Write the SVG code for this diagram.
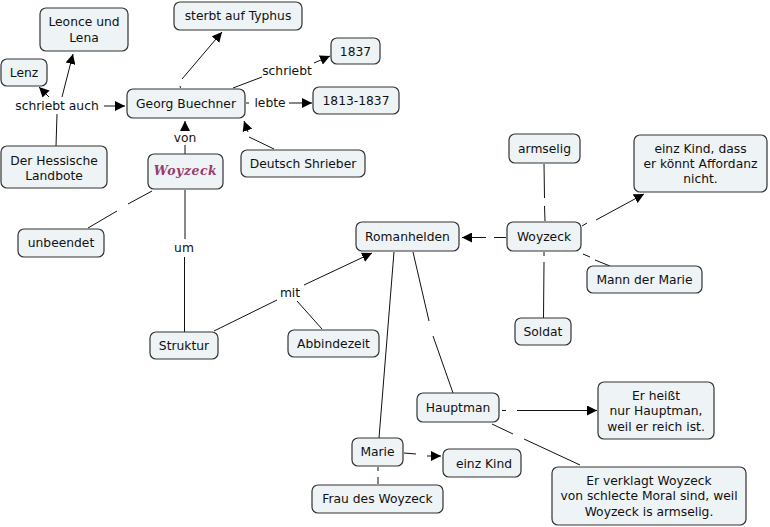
<svg xmlns="http://www.w3.org/2000/svg" width="770" height="527" viewBox="0 0 770 527">
<defs>
<marker id="ah" viewBox="0 0 10 10" refX="10" refY="5" markerWidth="10" markerHeight="10" markerUnits="userSpaceOnUse" orient="auto">
<path d="M0,0 L10,5 L0,10 z" fill="#000"/>
</marker>
</defs>
<style>
.n rect{fill:#eef3f6;stroke:#333;stroke-width:1.2}
.n text,.lbl{font-family:"DejaVu Sans",Verdana,sans-serif;font-size:12.3px;fill:#111;text-anchor:middle}
.c line,.c path{stroke:#111;stroke-width:1;fill:none}
.a{marker-end:url(#ah)}
.n text.ws{font-family:"DejaVu Serif",serif;font-style:italic;font-weight:bold;font-size:12.5px;fill:#9b3a6b;letter-spacing:0.5px}
</style>
<rect width="770" height="527" fill="#fff"/>
<g class="c" id="connectors">
<!-- Landbote schriebt auch -->
<line x1="56" y1="146" x2="57" y2="114"/>
<line class="a" x1="49" y1="97" x2="39" y2="87"/>
<line class="a" x1="62" y1="97" x2="73" y2="54"/>
<line class="a" x1="104" y1="106" x2="125" y2="106"/>
<!-- Georg -> sterbt -->
<line x1="180" y1="86" x2="180.5" y2="88"/>
<line class="a" x1="182" y1="79" x2="222" y2="32"/>
<!-- Georg schriebt 1837 -->
<line x1="233" y1="88" x2="262" y2="77"/>
<line class="a" x1="314" y1="63" x2="330" y2="56"/>
<!-- lebte -->
<line x1="246" y1="103" x2="249" y2="103"/>
<line class="a" x1="289" y1="103" x2="312" y2="103"/>
<!-- von -->
<line x1="185" y1="154" x2="185" y2="145"/>
<line class="a" x1="185" y1="130" x2="185" y2="121"/>
<!-- Deutsch Shrieber -->
<line x1="274" y1="149" x2="249" y2="137"/>
<line class="a" x1="248" y1="132" x2="244" y2="121"/>
<!-- unbeendet -->
<line x1="152" y1="191" x2="128" y2="204"/>
<line x1="117" y1="211" x2="88" y2="228"/>
<!-- um -->
<line x1="185" y1="190" x2="185" y2="239"/>
<line x1="184.5" y1="257" x2="184.5" y2="332"/>
<!-- mit -->
<line x1="214" y1="331" x2="277" y2="300"/>
<line class="a" x1="304" y1="285" x2="372" y2="253"/>
<line x1="297" y1="301" x2="322" y2="329"/>
<!-- Romanhelden - Marie -->
<line x1="394" y1="252" x2="379" y2="438"/>
<!-- Romanhelden - Hauptman -->
<line x1="413" y1="252" x2="429" y2="321"/>
<line x1="433" y1="336" x2="453" y2="393"/>
<!-- Woyzeck -> Romanhelden -->
<line x1="494" y1="237.5" x2="506" y2="237.5"/>
<line class="a" x1="486" y1="237.5" x2="462" y2="237.5"/>
<!-- armselig -->
<line x1="544" y1="164" x2="544.5" y2="198"/>
<line x1="544.5" y1="206" x2="545" y2="221"/>
<!-- Soldat -->
<line x1="544" y1="252" x2="544" y2="256"/>
<line x1="544" y1="262" x2="543.5" y2="318"/>
<!-- einz Kind dass -->
<line x1="582" y1="226" x2="587" y2="223"/>
<line class="a" x1="596" y1="220" x2="644" y2="194"/>
<!-- Mann der Marie -->
<line x1="583" y1="254" x2="590" y2="257"/>
<line x1="595" y1="260" x2="610" y2="266"/>
<!-- Hauptman -> Er heisst -->
<line x1="502" y1="410.5" x2="506" y2="410.5"/>
<line class="a" x1="517" y1="410.5" x2="597" y2="410.5"/>
<!-- Hauptman -> Er verklagt -->
<line x1="492" y1="424" x2="513" y2="434"/>
<line x1="524" y1="439" x2="580" y2="465"/>
<!-- Marie -> einz Kind -->
<line x1="404" y1="453" x2="416" y2="454"/>
<line class="a" x1="427" y1="456" x2="441" y2="456"/>
<!-- Marie - Frau des Woyzeck -->
<line x1="378" y1="467" x2="378" y2="471"/>
<line x1="378" y1="477" x2="378" y2="484"/>
</g>
<g id="labels">
<text class="lbl" x="57" y="110">schriebt auch</text>
<text class="lbl" x="287" y="75">schriebt</text>
<text class="lbl" x="270" y="107">lebte</text>
<text class="lbl" x="185" y="142">von</text>
<text class="lbl" x="184" y="252">um</text>
<text class="lbl" x="290" y="297">mit</text>
</g>
<g class="n" id="leonce"><rect x="40" y="8" width="88" height="43" rx="6"/><text x="84" y="26">Leonce und</text><text x="84" y="42">Lena</text></g>
<g class="n" id="sterbt"><rect x="174" y="2" width="128" height="28" rx="6"/><text x="238" y="20">sterbt auf Typhus</text></g>
<g class="n" id="lenz"><rect x="1" y="59" width="46" height="27" rx="6"/><text x="24" y="77">Lenz</text></g>
<g class="n" id="n1837"><rect x="331" y="38" width="49" height="26" rx="6"/><text x="355.5" y="56">1837</text></g>
<g class="n" id="georg"><rect x="127" y="89" width="118" height="29" rx="6"/><text x="186" y="108">Georg Buechner</text></g>
<g class="n" id="lebte1813"><rect x="313" y="87" width="86" height="27" rx="6"/><text x="356" y="105">1813-1837</text></g>
<g class="n" id="landbote"><rect x="1" y="146" width="106" height="42" rx="6"/><text x="54" y="165">Der Hessische</text><text x="54" y="180">Landbote</text></g>
<g class="n" id="woyzeck-title"><rect x="148" y="154" width="75" height="35" rx="6"/><text class="ws" x="185.5" y="175">Woyzeck</text></g>
<g class="n" id="deutsch"><rect x="241" y="150" width="124" height="27" rx="6"/><text x="303" y="168">Deutsch Shrieber</text></g>
<g class="n" id="unbeendet"><rect x="18" y="229" width="86" height="28" rx="6"/><text x="61" y="247">unbeendet</text></g>
<g class="n" id="struktur"><rect x="150" y="332" width="68" height="27" rx="6"/><text x="184" y="350">Struktur</text></g>
<g class="n" id="abbindezeit"><rect x="288" y="330" width="91" height="27" rx="6"/><text x="333.5" y="348">Abbindezeit</text></g>
<g class="n" id="romanhelden"><rect x="356" y="222" width="103" height="29" rx="6"/><text x="407.5" y="241">Romanhelden</text></g>
<g class="n" id="woyzeck"><rect x="507" y="222" width="74" height="29" rx="6"/><text x="544" y="241">Woyzeck</text></g>
<g class="n" id="armselig"><rect x="509" y="134" width="71" height="29" rx="6"/><text x="544.5" y="153">armselig</text></g>
<g class="n" id="kind-dass"><rect x="634" y="135" width="133" height="57" rx="6"/><text x="700.5" y="153">einz Kind, dass</text><text x="700.5" y="168">er könnt Affordanz</text><text x="700.5" y="183">nicht.</text></g>
<g class="n" id="mann"><rect x="587" y="266" width="115" height="27" rx="6"/><text x="644.5" y="284">Mann der Marie</text></g>
<g class="n" id="soldat"><rect x="515" y="318" width="56" height="27" rx="6"/><text x="543" y="336">Soldat</text></g>
<g class="n" id="hauptman"><rect x="417" y="393" width="82" height="29" rx="6"/><text x="458" y="412">Hauptman</text></g>
<g class="n" id="heisst"><rect x="598" y="382" width="116" height="57" rx="6"/><text x="656" y="400">Er heißt</text><text x="656" y="415">nur Hauptman,</text><text x="656" y="431">weil er reich ist.</text></g>
<g class="n" id="marie"><rect x="352" y="438" width="51" height="28" rx="6"/><text x="377.5" y="456">Marie</text></g>
<g class="n" id="einzkind"><rect x="443" y="449" width="78" height="28" rx="6"/><text x="484" y="468">einz Kind</text></g>
<g class="n" id="frau"><rect x="312" y="485" width="131" height="28" rx="6"/><text x="377.5" y="503">Frau des Woyzeck</text></g>
<g class="n" id="verklagt"><rect x="552" y="467" width="194" height="58" rx="6"/><text x="649" y="485">Er verklagt Woyzeck</text><text x="649" y="500">von schlecte Moral sind, weil</text><text x="649" y="516">Woyzeck is armselig.</text></g>
</svg>
